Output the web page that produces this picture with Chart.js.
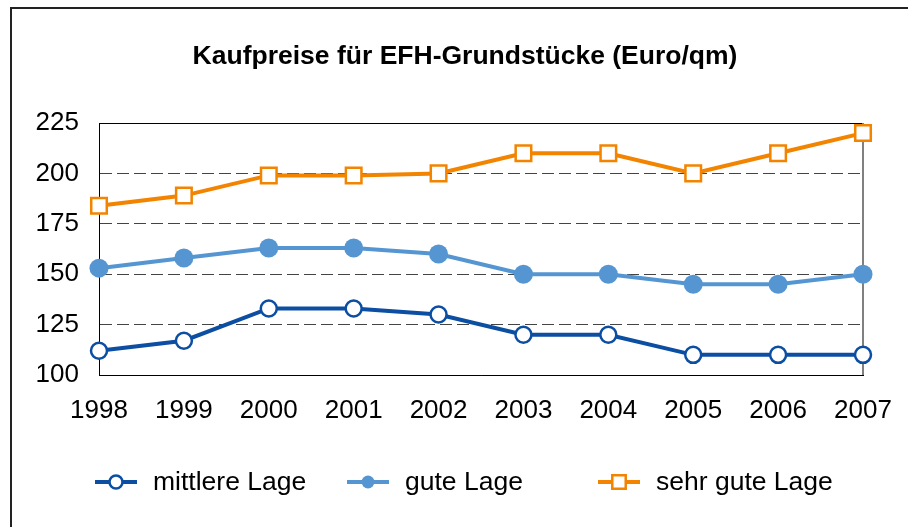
<!DOCTYPE html>
<html>
<head>
<meta charset="utf-8">
<script src="https://cdn.jsdelivr.net/npm/chart.js@4.4.0/dist/chart.umd.min.js"></script>
<style>
    body { margin: 0; background: #fff; }
    #wrap { width: 908px; height: 527px; }
</style>
</head>
<body>
<div id="wrap"><canvas id="myChart" width="908" height="527"></canvas></div>
<script>
var years = ['1998', '1999', '2000', '2001', '2002', '2003', '2004', '2005', '2006', '2007'];
var mittlereLage = [112, 117, 133, 133, 130, 120, 120, 110, 110, 110];
var guteLage = [153, 158, 163, 163, 160, 150, 150, 145, 145, 150];
var sehrGuteLage = [184, 189, 199, 199, 200, 210, 210, 200, 210, 220];
var yTicks = [100, 125, 150, 175, 200, 225];
var chartTitle = 'Kaufpreise für EFH-Grundstücke (Euro/qm)';

var FONT = '"Liberation Sans", Arial, sans-serif';

// outer frame, plot box, title and legend (Excel look)
var decorPlugin = {
    id: 'decor',
    beforeDatasetsDraw: function(chart) {
        var ctx = chart.ctx, a = chart.chartArea;
        ctx.save();
        ctx.lineWidth = 1;
        ctx.strokeStyle = '#000';
        ctx.beginPath();
        ctx.moveTo(a.left, a.top + 0.5);
        ctx.lineTo(a.right, a.top + 0.5);
        ctx.stroke();
        ctx.strokeStyle = '#808080';
        ctx.lineWidth = 2;
        ctx.beginPath();
        ctx.moveTo(a.right, a.top);
        ctx.lineTo(a.right, a.bottom);
        ctx.stroke();
        ctx.restore();
    },
    afterDraw: function(chart) {
        var ctx = chart.ctx;
        ctx.save();
        // frame
        ctx.strokeStyle = '#222';
        ctx.lineWidth = 2;
        ctx.beginPath();
        ctx.moveTo(11, chart.height);
        ctx.lineTo(11, 8);
        ctx.lineTo(chart.width, 8);
        ctx.stroke();

        // title
        ctx.fillStyle = '#000';
        ctx.font = 'bold 26.5px ' + FONT;
        ctx.textAlign = 'center';
        ctx.textBaseline = 'middle';
        ctx.fillText(chartTitle, 465, 57);

        // legend
        var legendX = [95, 347, 598];
        var legendY = 482;
        ctx.font = '26.5px ' + FONT;
        ctx.textAlign = 'left';
        chart.data.datasets.forEach(function(ds, i) {
            var x = legendX[i];
            ctx.strokeStyle = ds.borderColor;
            ctx.lineWidth = 4;
            ctx.beginPath();
            ctx.moveTo(x, legendY);
            ctx.lineTo(x + 42, legendY);
            ctx.stroke();
            ctx.fillStyle = ds.pointBackgroundColor;
            ctx.strokeStyle = ds.borderColor;
            ctx.lineWidth = ds.pointBorderWidth;
            Chart.helpers.drawPoint(ctx, {
                pointStyle: ds.pointStyle,
                radius: ds.pointStyle === 'rect' ? 9.5 : 6.5,
                rotation: 0,
                borderWidth: ds.pointBorderWidth
            }, x + 21, legendY);
            ctx.fillStyle = '#000';
            ctx.fillText(ds.label, x + 58, legendY + 1);
        });
        ctx.restore();
    }
};

var ctx = document.getElementById('myChart').getContext('2d');
var myChart = new Chart(ctx, {
    type: 'line',
    data: {
        labels: years,
        datasets: [
            {
                label: 'mittlere Lage',
                data: mittlereLage,
                borderColor: '#0B4EA2',
                borderWidth: 4,
                pointStyle: 'circle',
                pointRadius: 8,
                pointBorderWidth: 2.5,
                pointBackgroundColor: '#fff',
                pointBorderColor: '#0B4EA2',
                clip: false
            },
            {
                label: 'gute Lage',
                data: guteLage,
                borderColor: '#5596D2',
                borderWidth: 4,
                pointStyle: 'circle',
                pointRadius: 9.5,
                pointBorderWidth: 0,
                pointBackgroundColor: '#5596D2',
                pointBorderColor: '#5596D2',
                clip: false
            },
            {
                label: 'sehr gute Lage',
                data: sehrGuteLage,
                borderColor: '#F28400',
                borderWidth: 4,
                pointStyle: 'rect',
                pointRadius: 11,
                pointBorderWidth: 2.5,
                pointBackgroundColor: '#fff',
                pointBorderColor: '#F28400',
                clip: false
            }
        ]
    },
    options: {
        responsive: false,
        animation: false,
        layout: { padding: { left: 0, right: 45, top: 123, bottom: 0 } },
        plugins: {
            legend: { display: false },
            title: { display: false },
            tooltip: { enabled: false }
        },
        elements: { line: { tension: 0 } },
        scales: {
            x: {
                type: 'category',
                offset: false,
                grid: { display: false, drawTicks: false },
                border: { display: true, color: '#000', width: 1 },
                ticks: { color: '#000', font: { family: FONT, size: 26 }, padding: 20, maxRotation: 0 },
                afterFit: function(scale) {
                    scale.height = 152;
                    scale.paddingLeft = 0;
                    scale.paddingRight = 0;
                }
            },
            y: {
                min: 100,
                max: 225,
                grid: { color: '#444', lineWidth: 1, drawTicks: false },
                border: { display: true, color: '#000', width: 1, dash: [12, 5] },
                afterBuildTicks: function(scale) {
                    scale.ticks = yTicks.map(function(v) { return { value: v }; });
                },
                ticks: { color: '#000', font: { family: FONT, size: 26 }, padding: 20 },
                afterFit: function(scale) { scale.width = 99; }
            }
        }
    },
    plugins: [decorPlugin]
});
</script>
</body>
</html>
